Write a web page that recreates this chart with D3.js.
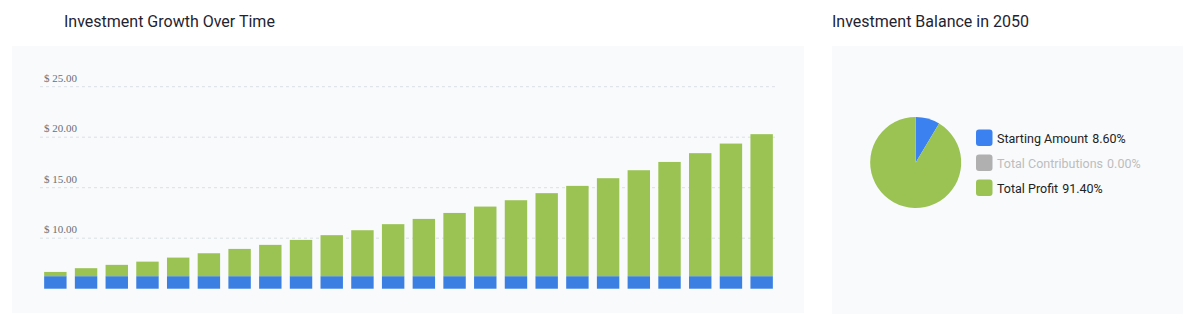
<!DOCTYPE html>
<html><head><meta charset="utf-8">
<script src="https://cdn.jsdelivr.net/npm/d3@7"></script>
<style>
html,body{margin:0;padding:0;background:#fff;}
svg{display:block;}
</style></head>
<body>
<svg id="c" width="1200" height="328"></svg>
<script>
const years = [2027,2028,2029,2030,2031,2032,2033,2034,2035,2036,2037,2038,2039,2040,2041,2042,2043,2044,2045,2046,2047,2048,2049,2050];
const totals = [6.66,7.03,7.36,7.68,8.08,8.51,8.94,9.34,9.83,10.30,10.79,11.39,11.91,12.50,13.13,13.76,14.46,15.18,15.94,16.73,17.55,18.42,19.37,20.30];
const startingAmount = 6.24;
const yTicks = [10,15,20,25];
const pieLabels = ["Starting Amount","Total Contributions","Total Profit"];
const pieValues = [8.60, 0.00, 91.40];
const pieColors = ["#3b82f0","#b0b0b0","#9bc353"];
const blue = "#3b7fe3", green = "#9bc353";

const svg = d3.select("#c");
const font = "Roboto, 'Noto Sans', sans-serif";

// panels
svg.append("rect").attr("x",12).attr("y",46).attr("width",792).attr("height",267).attr("fill","#f8fafc");
svg.append("rect").attr("x",832).attr("y",46).attr("width",351).attr("height",268).attr("fill","#f8fafc");

// titles
svg.append("text").attr("x",64).attr("y",27).text("Investment Growth Over Time")
  .attr("font-family",font).attr("font-size",16).attr("fill","#1f2430");
svg.append("text").attr("x",832).attr("y",27).text("Investment Balance in 2050")
  .attr("font-family",font).attr("font-size",16).attr("fill","#1f2430");

// bar chart
const x = d3.scaleBand().domain(years).range([40,777]).paddingInner(0.27).paddingOuter(0.135);
const y = d3.scaleLinear().domain([5,25]).range([288.7,86.7]);

const g = svg.append("g");
const grid = g.append("g").attr("class","grid");
yTicks.forEach(t=>{
  grid.append("line").attr("x1",40).attr("x2",777).attr("y1",y(t)).attr("y2",y(t))
    .attr("stroke","#dcdfe4").attr("stroke-width",1).attr("stroke-dasharray","3,3");
  grid.append("text").attr("x",44).attr("y",y(t)-5).text("$ "+d3.format(".2f")(t))
    .attr("font-family","'Liberation Serif', 'DejaVu Serif', serif").attr("font-size",11).attr("fill","#6b6f76");
});

g.selectAll("rect.start").data(years).join("rect").attr("class","start")
  .attr("x",d=>x(d)).attr("width",x.bandwidth())
  .attr("y",y(startingAmount)).attr("height",y(5)-y(startingAmount)).attr("fill",blue);
g.selectAll("rect.profit").data(years).join("rect").attr("class","profit")
  .attr("x",d=>x(d)).attr("width",x.bandwidth())
  .attr("y",(d,i)=>y(totals[i])).attr("height",(d,i)=>y(startingAmount)-y(totals[i])).attr("fill",green);

// pie
const pie = d3.pie().sort(null).value(d=>d)(pieValues);
const arc = d3.arc().innerRadius(0).outerRadius(45.5);
const pg = svg.append("g").attr("transform","translate(915.7,162.5)");
pg.selectAll("path").data(pie).join("path").attr("d",arc).attr("fill",(d,i)=>pieColors[i]);

// legend
const lg = svg.append("g").attr("transform","translate(976,129.5)");
pieLabels.forEach((l,i)=>{
  const row = lg.append("g").attr("transform",`translate(0,${i*25})`);
  row.append("rect").attr("width",16.5).attr("height",16.5).attr("rx",3).attr("fill",pieColors[i]);
  const hidden = pieValues[i]===0;
  const t = row.append("text").attr("x",21).attr("y",13).attr("font-family",font).attr("font-size",12.5)
    .attr("fill",hidden?"#bdbdbd":"#222");
  t.append("tspan").text(l);
  t.append("tspan").attr("dx",4).text(d3.format(".2f")(pieValues[i])+"%");
});
</script>
</body></html>
